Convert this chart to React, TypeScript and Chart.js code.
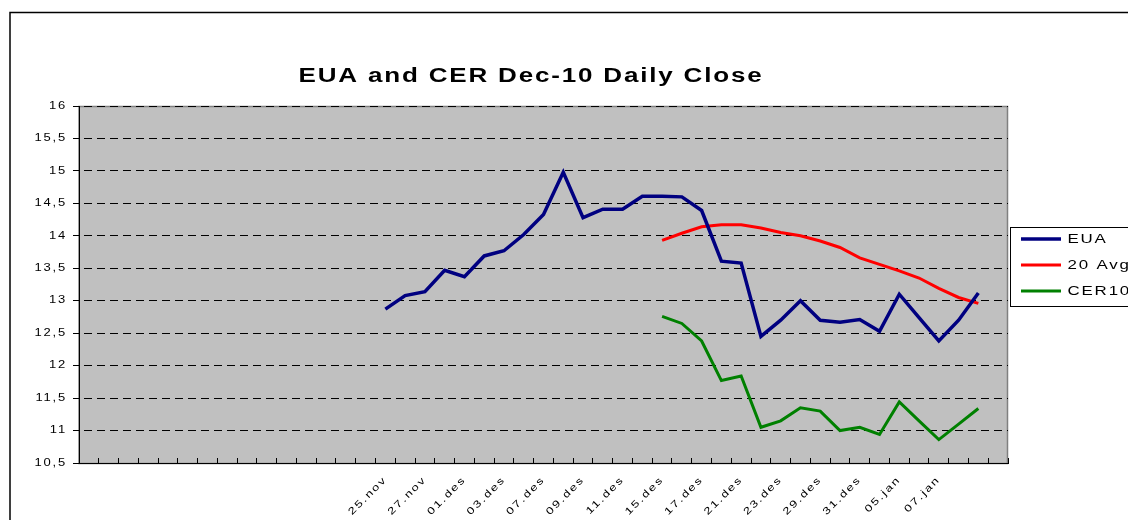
import React, { useEffect, useRef } from 'react';
import { Chart, registerables } from 'chart.js';

Chart.register(...registerables);

// ---- data ----
const categories: string[] = [
  '', '', '', '', '', '', '', '', '', '', '', '', '', '', '',
  '25.nov', '26.nov', '27.nov', '30.nov', '01.des', '02.des', '03.des', '04.des',
  '07.des', '08.des', '09.des', '10.des', '11.des', '14.des', '15.des', '16.des',
  '17.des', '18.des', '21.des', '22.des', '23.des', '28.des', '29.des', '30.des',
  '31.des', '04.jan', '05.jan', '06.jan', '07.jan', '08.jan', '', '',
];

const euaStart = 15;
const euaValues = [
  12.87, 13.08, 13.14, 13.47, 13.37, 13.69, 13.77, 14.02, 14.33, 14.98,
  14.28, 14.41, 14.41, 14.61, 14.61, 14.6, 14.39, 13.61, 13.58, 12.45,
  12.7, 13.0, 12.7, 12.67, 12.71, 12.53, 13.1, 12.74, 12.38, 12.7, 13.12,
];

const avgStart = 29;
const avgValues = [
  13.93, 14.04, 14.14, 14.17, 14.17, 14.12, 14.05, 14.0, 13.92, 13.82,
  13.66, 13.56, 13.46, 13.35, 13.19, 13.05, 12.96,
];

const cerStart = 29;
const cerValues = [
  12.76, 12.65, 12.38, 11.77, 11.84, 11.05, 11.15, 11.35, 11.3, 11.0,
  11.05, 10.94, 11.44, 11.15, 10.86, 11.1, 11.34,
];

const yMin = 10.5;
const yMax = 16;
const yStep = 0.5;

const titleText = 'EUA and CER Dec-10 Daily Close';
const seriesNames = ['EUA', '20 Avg', 'CER10'];
const seriesColors = ['#000080', '#ff0000', '#008000'];

// ---- layout ----
const CANVAS_W = 1190;
const CANVAS_H = 530;
const PLOT_LEFT = 79;
const PLOT_RIGHT = 1008;
const PLOT_BOTTOM = 463;
const TITLE_CX = 531;
const FONT = '"Liberation Sans", Arial, sans-serif';
const TEXT_STRETCH = 1.3;
const LETTER_SPACING = '1.4px';

function place(values: number[], start: number): (number | null)[] {
  return categories.map((_, i) =>
    i >= start && i < start + values.length ? values[i - start] : null
  );
}

// wide, slightly spaced text like the original (stretched) rendering
function patchContext(ctx: any) {
  if (!ctx || ctx.__wide) return;
  const fill = ctx.fillText.bind(ctx);
  const measure = ctx.measureText.bind(ctx);
  ctx.fillText = (t: string, x: number, y: number) => {
    ctx.letterSpacing = LETTER_SPACING;
    ctx.save();
    ctx.translate(x, y);
    ctx.scale(TEXT_STRETCH, 1);
    fill(t, 0, 0);
    ctx.restore();
  };
  ctx.measureText = (t: string) => {
    ctx.letterSpacing = LETTER_SPACING;
    const m = measure(t);
    return {
      width: m.width * TEXT_STRETCH,
      actualBoundingBoxLeft: m.actualBoundingBoxLeft * TEXT_STRETCH,
      actualBoundingBoxRight: m.actualBoundingBoxRight * TEXT_STRETCH,
      actualBoundingBoxAscent: m.actualBoundingBoxAscent,
      actualBoundingBoxDescent: m.actualBoundingBoxDescent,
      fontBoundingBoxAscent: m.fontBoundingBoxAscent,
      fontBoundingBoxDescent: m.fontBoundingBoxDescent,
    };
  };
  ctx.__wide = true;
}

export default function App() {
  const ref = useRef<HTMLCanvasElement>(null);

  useEffect(() => {
    const canvas = ref.current;
    if (!canvas) return;
    patchContext(canvas.getContext('2d'));

    const deco = {
      id: 'deco',
      afterLayout(chart: any) {
        const t = chart.titleBlock;
        if (t) {
          const s = TITLE_CX - (t.left + t.right) / 2;
          t.left += s;
          t.right += s;
        }
      },
      beforeDraw(chart: any) {
        const { ctx, chartArea: a } = chart;
        ctx.save();
        ctx.fillStyle = '#ffffff';
        ctx.fillRect(0, 0, chart.width, chart.height);
        ctx.fillStyle = '#c0c0c0';
        ctx.fillRect(a.left, a.top, a.right - a.left, a.bottom - a.top);
        ctx.strokeStyle = '#808080';
        ctx.lineWidth = 1.5;
        ctx.strokeRect(a.left, a.top + 0.5, a.right - a.left - 0.5, a.bottom - a.top);
        // outer chart border
        ctx.strokeStyle = '#000000';
        ctx.lineWidth = 1.5;
        ctx.strokeRect(10, 12.5, chart.width + 40, chart.height + 40);
        ctx.restore();
      },
      afterDraw(chart: any) {
        const lg = chart.legend;
        const hb = lg && lg.legendHitBoxes;
        if (!hb || !hb.length) return;
        const { ctx } = chart;
        const top = Math.round(hb[0].top - 6) + 0.5;
        const last = hb[hb.length - 1];
        const bottom = Math.round(last.top + last.height + 8) + 0.5;
        ctx.save();
        ctx.strokeStyle = '#000000';
        ctx.lineWidth = 1;
        ctx.strokeRect(Math.round(lg.left) + 2.5, top, 400, bottom - top);
        ctx.restore();
      },
    };

    const chart = new Chart(canvas, {
      type: 'line',
      data: {
        labels: categories,
        datasets: [
          {
            label: seriesNames[0],
            data: place(euaValues, euaStart),
            borderColor: seriesColors[0],
            backgroundColor: seriesColors[0],
            borderWidth: 3.5,
            pointRadius: 0,
            tension: 0,
          },
          {
            label: seriesNames[1],
            data: place(avgValues, avgStart),
            borderColor: seriesColors[1],
            backgroundColor: seriesColors[1],
            borderWidth: 3,
            pointRadius: 0,
            tension: 0,
          },
          {
            label: seriesNames[2],
            data: place(cerValues, cerStart),
            borderColor: seriesColors[2],
            backgroundColor: seriesColors[2],
            borderWidth: 3,
            pointRadius: 0,
            tension: 0,
          },
        ],
      },
      options: {
        responsive: false,
        animation: false,
        devicePixelRatio: 1,
        events: [],
        layout: { padding: { left: 0, right: 0, top: 0, bottom: 0 } },
        plugins: {
          tooltip: { enabled: false },
          title: {
            display: true,
            text: titleText,
            color: '#000000',
            font: { family: FONT, size: 20, weight: 'bold', lineHeight: 1.2 },
            padding: { top: 64, bottom: 18 },
          },
          legend: {
            position: 'right',
            align: 'center',
            labels: {
              usePointStyle: true,
              pointStyle: 'line',
              pointStyleWidth: 40,
              padding: 13,
              color: '#000000',
              font: { family: FONT, size: 13 },
            },
          },
        },
        scales: {
          x: {
            type: 'category',
            offset: true,
            grid: {
              display: true,
              drawOnChartArea: false,
              drawTicks: true,
              tickLength: -5,
              color: '#000000',
              offset: true,
            },
            border: { display: true, color: '#000000', width: 1 },
            ticks: {
              autoSkip: false,
              maxRotation: 45,
              minRotation: 45,
              padding: 16,
              color: '#000000',
              font: { family: FONT, size: 10 },
              callback: (_v: any, i: number) => (i % 2 === 1 ? categories[i] : ''),
            },
            afterFit: (s: any) => {
              s.height = CANVAS_H - PLOT_BOTTOM;
            },
          },
          y: {
            min: yMin,
            max: yMax,
            ticks: {
              stepSize: yStep,
              color: '#000000',
              padding: 6,
              font: { family: FONT, size: 10 },
              callback: (v: any) => String(v).replace('.', ','),
            },
            grid: {
              color: '#000000',
              lineWidth: 1,
              drawTicks: true,
              tickLength: 6,
              tickColor: '#000000',
            },
            border: { display: true, color: '#000000', width: 1, dash: [8, 5], dashOffset: 9 },
            afterFit: (s: any) => {
              s.width = PLOT_LEFT;
            },
          },
        },
      } as any,
      plugins: [deco],
    });

    const lw = chart.legend ? chart.legend.width : 130;
    (chart.options as any).layout.padding = {
      left: 0,
      top: 0,
      bottom: 0,
      right: CANVAS_W - PLOT_RIGHT - lw,
    };
    chart.update();

    return () => {
      chart.destroy();
    };
  }, []);

  return (
    <div
      style={{
        position: 'absolute',
        left: 0,
        top: 0,
        width: 1128,
        height: 520,
        overflow: 'hidden',
        background: '#ffffff',
      }}
    >
      <canvas ref={ref} width={CANVAS_W} height={CANVAS_H} style={{ display: 'block' }} />
    </div>
  );
}
